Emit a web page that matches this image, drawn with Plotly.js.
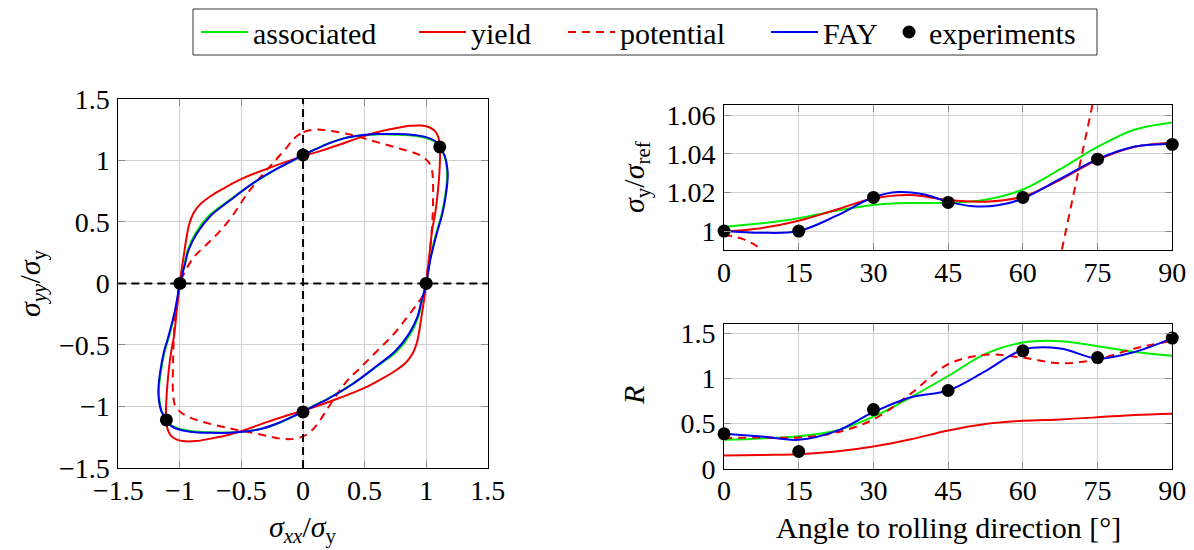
<!DOCTYPE html>
<html><head><meta charset="utf-8">
<script src="https://cdn.plot.ly/plotly-3.0.1.min.js"></script>
<style>html,body{margin:0;padding:0;background:#fff}</style>
</head><body><div id="chart" style="width:1194px;height:550px"></div>
<script>
// ---------- Left panel: yield loci (sigma_xx/sigma_y, sigma_yy/sigma_y) ----------
const fayX = [0,0.1,0.2,0.33,0.47,0.6,0.75,0.88,1.0,1.07,1.11,1.15,1.17,1.175,1.16,1.13,1.09,1.04,1.0,
  0.985,0.96,0.93,0.86,0.75,0.6,0.4,0.2,0.1,0,
  -0.1,-0.2,-0.33,-0.47,-0.6,-0.75,-0.88,-1.0,-1.07,-1.11,-1.15,-1.17,-1.175,-1.16,-1.13,-1.09,-1.04,-1.0,
  -0.985,-0.96,-0.93,-0.86,-0.75,-0.6,-0.4,-0.2,-0.1,0];
const fayY = [1.045,1.09,1.135,1.18,1.205,1.215,1.215,1.21,1.19,1.16,1.11,1.04,0.95,0.87,0.72,0.56,0.42,0.22,0,
  -0.06,-0.15,-0.27,-0.41,-0.55,-0.67,-0.82,-0.94,-0.99,-1.045,
  -1.09,-1.135,-1.18,-1.205,-1.215,-1.215,-1.21,-1.19,-1.16,-1.11,-1.04,-0.95,-0.87,-0.72,-0.56,-0.42,-0.22,0,
  0.06,0.15,0.27,0.41,0.55,0.67,0.82,0.94,0.99,1.045];

const assocX = [0,0.1,0.2,0.33,0.47,0.6,0.75,0.88,1.0,1.07,1.11,1.148,1.166,1.17,1.155,1.125,1.085,1.035,1.0,
  0.983,0.962,0.935,0.87,0.765,0.615,0.41,0.205,0.1,0,
  -0.1,-0.2,-0.33,-0.47,-0.6,-0.75,-0.88,-1.0,-1.07,-1.11,-1.148,-1.166,-1.17,-1.155,-1.125,-1.085,-1.035,-1.0,
  -0.983,-0.962,-0.935,-0.87,-0.765,-0.615,-0.41,-0.205,-0.1,0];
const assocY = [1.045,1.092,1.137,1.18,1.203,1.212,1.21,1.203,1.183,1.153,1.11,1.04,0.95,0.87,0.72,0.56,0.42,0.22,0,
  -0.07,-0.16,-0.275,-0.415,-0.55,-0.665,-0.81,-0.935,-0.988,-1.045,
  -1.092,-1.137,-1.18,-1.203,-1.212,-1.21,-1.203,-1.183,-1.153,-1.11,-1.04,-0.95,-0.87,-0.72,-0.56,-0.42,-0.22,0,
  0.07,0.16,0.275,0.415,0.55,0.665,0.81,0.935,0.988,1.045];

const yieldX = [0,0.15,0.3,0.47,0.6,0.74,0.87,0.96,1.03,1.075,1.1,1.112,1.11,1.09,1.07,1.048,1.025,1.0,
  0.985,0.965,0.945,0.925,0.89,0.834,0.75,0.65,0.5,0.3,0.15,0,
  -0.15,-0.3,-0.47,-0.6,-0.74,-0.87,-0.96,-1.03,-1.075,-1.1,-1.112,-1.11,-1.09,-1.07,-1.048,-1.025,-1.0,
  -0.985,-0.965,-0.945,-0.925,-0.89,-0.834,-0.75,-0.65,-0.5,-0.3,-0.15,0];
const yieldY = [1.035,1.08,1.13,1.19,1.23,1.26,1.282,1.284,1.268,1.235,1.185,1.11,0.95,0.7,0.55,0.43,0.22,0,
  -0.12,-0.25,-0.38,-0.48,-0.57,-0.645,-0.71,-0.77,-0.85,-0.93,-0.985,-1.035,
  -1.08,-1.13,-1.19,-1.23,-1.26,-1.282,-1.284,-1.268,-1.235,-1.185,-1.11,-0.95,-0.7,-0.55,-0.43,-0.22,0,
  0.12,0.25,0.38,0.48,0.57,0.645,0.71,0.77,0.85,0.93,0.985,1.035];

const potX = [-0.076,0.005,0.087,0.195,0.411,0.601,0.79,0.953,1.02,1.047,1.055,1.053,1.034,1.007,1.0,
  0.98,0.926,0.844,0.736,0.601,0.466,0.357,0.276,0.195,0.114,0.032,-0.076,-0.184,-0.346,-0.617,-0.834,-0.969,
  -1.037,-1.055,-1.055,-1.045,-1.023,-1.0,-0.955,-0.888,-0.779,-0.671,-0.563,-0.455,-0.346,-0.238,-0.13,-0.076];
const potY = [1.177,1.231,1.25,1.245,1.204,1.149,1.095,1.041,0.986,0.918,0.837,0.565,0.293,0.076,0,
  -0.087,-0.168,-0.277,-0.413,-0.549,-0.685,-0.793,-0.902,-1.024,-1.147,-1.228,-1.264,-1.261,-1.228,-1.174,-1.12,-1.065,
  -0.997,-0.902,-0.63,-0.359,-0.141,0,0.103,0.212,0.321,0.429,0.565,0.728,0.864,0.986,1.109,1.177];

const expLocusX = [0, 1.11, 1, 0, -1.11, -1];
const expLocusY = [1.045, 1.11, 0, -1.045, -1.11, 0];

// ---------- Right panels: angle to rolling direction ----------
const angles = [0,7.5,15,22.5,30,37.5,45,52.5,60,67.5,75,82.5,90];
const sigAssoc = [1.0022,1.0040,1.0066,1.0105,1.0135,1.0145,1.0146,1.0162,1.0215,1.0320,1.0435,1.0525,1.0562];
const sigYield = [0.9998,1.0015,1.0053,1.0110,1.0168,1.0186,1.0160,1.0152,1.0178,1.0265,1.0368,1.0436,1.0457];
const anglesFay = [0,7.5,15,22.5,30,35,40,45,50,55,60,67.5,75,82.5,90];
const sigFay = [1.0,0.9991,1.0,1.0078,1.0175,1.0202,1.0190,1.0152,1.0128,1.0133,1.0168,1.0270,1.0372,1.0437,1.0450];
const anglesPot = [0,2,4,6,8,10,20,40,55,62,66,68,70,72,74,76];
const sigPot = [0.9978,0.9973,0.9957,0.9932,0.9895,0.985,0.95,0.90,0.92,0.94,0.968,0.9927,1.0172,1.0416,1.066,1.09];

const rAssoc = [0.32,0.335,0.36,0.42,0.575,0.79,1.025,1.27,1.395,1.41,1.355,1.29,1.248];
const rYield = [0.145,0.152,0.16,0.19,0.245,0.325,0.423,0.495,0.53,0.545,0.568,0.594,0.609];
const rPot   = [0.338,0.345,0.345,0.40,0.545,0.83,1.155,1.26,1.228,1.165,1.21,1.33,1.415];
const rFay   = [0.386,0.356,0.32,0.415,0.625,0.79,0.865,1.08,1.315,1.33,1.218,1.292,1.444];

const expAngles = [0,15,30,45,60,75,90];
const expSig = [1.0,1.0,1.0174,1.0148,1.0174,1.0372,1.0448];
const expR = [0.386,0.19,0.654,0.865,1.303,1.229,1.444];

const angleTicks = [0,15,30,45,60,75,90];
const sigTicks = [1,1.02,1.04,1.06];
const sigTickText = ['1','1.02','1.04','1.06'];
const rTicks = [0,0.5,1,1.5];
const locusTicks = [-1.5,-1,-0.5,0,0.5,1,1.5];

// ---------- styles ----------
const GREEN = '#00ee00', RED = '#ee0000', BLUE = '#0000ee';
const FONT = '"Liberation Serif", "Times New Roman", "DejaVu Serif", serif';
const LW = 2;
const DASH = '8px,6px';

function line(x, y, color, dash, name, show, xa, ya, leg, shape) {
  return {x, y, type:'scatter', mode:'lines', name, showlegend:show, legend:leg, legendgroup:name,
    xaxis:xa, yaxis:ya, hoverinfo:'skip',
    line:{color, width:LW, dash: dash || 'solid', shape: shape || 'spline', smoothing:1}};
}
function pts(x, y, name, show, xa, ya, leg) {
  return {x, y, type:'scatter', mode:'markers', name, showlegend:show, legend:leg, legendgroup:name,
    xaxis:xa, yaxis:ya, cliponaxis:false, hoverinfo:'skip',
    marker:{color:'#000', size:13}};
}

const data = [
  line(assocX, assocY, GREEN, null, 'associated', true, 'x', 'y', 'legend'),
  line(yieldX, yieldY, RED, null, 'yield', true, 'x', 'y', 'legend2'),
  line(potX, potY, RED, DASH, 'potential', true, 'x', 'y', 'legend3'),
  line(fayX, fayY, BLUE, null, 'FAY', true, 'x', 'y', 'legend4'),
  pts(expLocusX, expLocusY, 'experiments', true, 'x', 'y', 'legend5'),

  line(angles, sigAssoc, GREEN, null, 'associated', false, 'x2', 'y2', 'legend'),
  line(angles, sigYield, RED, null, 'yield', false, 'x2', 'y2', 'legend2'),
  line(anglesPot, sigPot, RED, DASH, 'potential', false, 'x2', 'y2', 'legend3', 'linear'),
  line(anglesFay, sigFay, BLUE, null, 'FAY', false, 'x2', 'y2', 'legend4'),
  pts(expAngles, expSig, 'experiments', false, 'x2', 'y2', 'legend5'),

  line(angles, rAssoc, GREEN, null, 'associated', false, 'x3', 'y3', 'legend'),
  line(angles, rYield, RED, null, 'yield', false, 'x3', 'y3', 'legend2'),
  line(angles, rPot, RED, DASH, 'potential', false, 'x3', 'y3', 'legend3'),
  line(angles, rFay, BLUE, null, 'FAY', false, 'x3', 'y3', 'legend4'),
  pts(expAngles, expR, 'experiments', false, 'x3', 'y3', 'legend5')
];

const ax = {showline:true, linecolor:'#000', linewidth:1, mirror:'ticks', ticks:'inside', ticklen:7,
  tickcolor:'#8c8c8c', tickwidth:1, showgrid:true, gridcolor:'#d0d0d0', gridwidth:1, zeroline:false,
  tickfont:{family:FONT, size:28, color:'#000'}, fixedrange:true};

const textFont = {family:FONT, size:30, color:'#000'};
// legend row: one legend per entry, placed like the reference; a frame is drawn round them
const legendRowY = 1 - 32/550;
function leg(xpx, iw) {
  return {orientation:'h', x:xpx/1194, xanchor:'left', y:legendRowY, yanchor:'middle',
    borderwidth:0, bgcolor:'rgba(0,0,0,0)', font:textFont, itemwidth:iw};
}

const layout = {
  width:1194, height:550, margin:{l:0, r:0, t:0, b:0},
  paper_bgcolor:'#fff', plot_bgcolor:'#fff', showlegend:true, hovermode:false,
  font:{family:FONT, size:28, color:'#000'},
  legend: leg(196, 47), legend2: leg(414, 47), legend3: leg(563, 47), legend4: leg(766, 47), legend5: leg(889, 30),
  xaxis: Object.assign({}, ax, {domain:[0.0991,0.4085], range:[-1.5,1.5], tickvals:locusTicks, anchor:'y', ticklabelstandoff:-2}),
  yaxis: Object.assign({}, ax, {domain:[0.1493,0.8200], range:[-1.5,1.5], tickvals:locusTicks, anchor:'x', ticklabelstandoff:2}),
  xaxis2: Object.assign({}, ax, {domain:[0.6064,0.9818], range:[0,90], tickvals:angleTicks, anchor:'y2', ticklabelstandoff:-3}),
  yaxis2: Object.assign({}, ax, {domain:[0.5455,0.8091], range:[0.9902,1.0652], tickvals:sigTicks, ticktext:sigTickText, anchor:'x2', ticklabelstandoff:2}),
  xaxis3: Object.assign({}, ax, {domain:[0.6064,0.9818], range:[0,90], tickvals:angleTicks, anchor:'y3', ticklabelstandoff:-3}),
  yaxis3: Object.assign({}, ax, {domain:[0.1478,0.4109], range:[0,1.6], tickvals:rTicks, anchor:'x3', ticklabelstandoff:2}),
  shapes:[
    {type:'line', xref:'x', yref:'y domain', x0:0, x1:0, y0:0, y1:1, layer:'above', line:{color:'#000', width:2, dash:'8px,5px'}},
    {type:'line', xref:'x domain', yref:'y', x0:0, x1:1, y0:0, y1:0, layer:'above', line:{color:'#000', width:2, dash:'8px,5px'}},
    {type:'rect', xref:'paper', yref:'paper', x0:193/1194, x1:1097/1194, y0:1-55/550, y1:1-9/550,
      layer:'above', fillcolor:'rgba(0,0,0,0)', line:{color:'#333', width:1}}
  ],
  annotations:[
    {text:'<i>σ</i><sub><i>xx</i></sub>/<i>σ</i><sub>y</sub>', xref:'paper', yref:'paper', x:303/1194, y:1-529/550,
      xanchor:'center', yanchor:'middle', showarrow:false, font:textFont},
    {text:'<i>σ</i><sub><i>yy</i></sub>/<i>σ</i><sub>y</sub>', xref:'paper', yref:'paper', x:32/1194, y:1-283/550,
      xanchor:'center', yanchor:'middle', showarrow:false, textangle:-90, font:textFont},
    {text:'<i>σ</i><sub>y</sub>/<i>σ</i><sub>ref</sub>', xref:'paper', yref:'paper', x:636/1194, y:1-177/550,
      xanchor:'center', yanchor:'middle', showarrow:false, textangle:-90, font:textFont},
    {text:'<i>R</i>', xref:'paper', yref:'paper', x:633/1194, y:1-396/550,
      xanchor:'center', yanchor:'middle', showarrow:false, textangle:-90, font:textFont},
    {text:'Angle to rolling direction [°]', xref:'paper', yref:'paper', x:948/1194, y:1-527/550,
      xanchor:'center', yanchor:'middle', showarrow:false, font:textFont}
  ]
};

Plotly.newPlot('chart', data, layout, {staticPlot:true, displayModeBar:false});
</script>
</body></html>
